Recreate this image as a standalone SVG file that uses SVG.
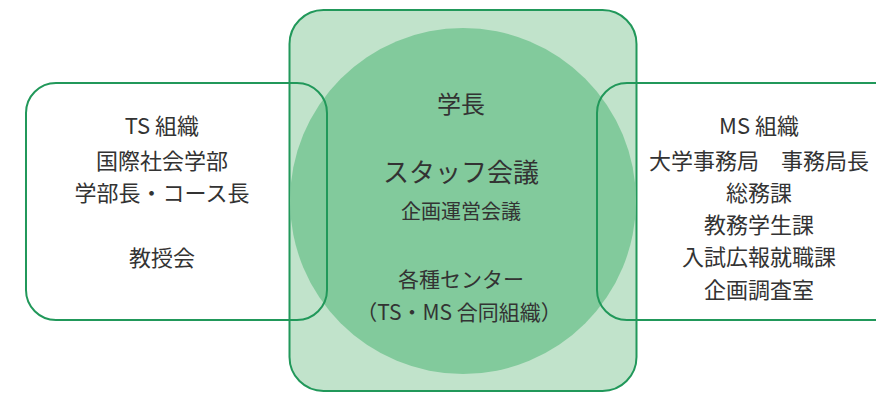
<svg xmlns="http://www.w3.org/2000/svg" width="876" height="393" viewBox="0 0 876 393">
<style>
.box{fill:none;stroke:#21985a;stroke-width:2}
.t{font-family:"Noto Sans CJK JP","Noto Sans",sans-serif;fill:#333;text-anchor:middle}
.s22{font-size:22px}
</style>
<rect width="876" height="393" fill="#fff"/>
<g id="center">
<rect x="289.5" y="10" width="347" height="381" rx="34" fill="#c1e3cb" stroke="#21985a" stroke-width="2"/>
<circle cx="463" cy="201" r="173" fill="#82ca9c"/>
<text class="t" x="461" y="113" font-size="24">学長</text>
<text class="t" x="461" y="182" font-size="26">スタッフ会議</text>
<text class="t" x="461" y="219" font-size="20">企画運営会議</text>
<text class="t" x="461" y="287" font-size="21">各種センター</text>
<text class="t" x="459" y="320" font-size="21">（TS・MS 合同組織）</text>
</g>
<g id="ts">
<rect class="box" x="26" y="83" width="301" height="237" rx="30"/>
<text class="t s22" x="162" y="134">TS 組織</text>
<text class="t s22" x="162" y="169">国際社会学部</text>
<text class="t s22" x="162" y="201">学部長・コース長</text>
<text class="t s22" x="162" y="266">教授会</text>
</g>
<g id="ms">
<rect class="box" x="597" y="83" width="310" height="237" rx="30"/>
<text class="t s22" x="759" y="134">MS 組織</text>
<text class="t s22" x="759" y="169">大学事務局　事務局長</text>
<text class="t s22" x="759" y="201">総務課</text>
<text class="t s22" x="759" y="233">教務学生課</text>
<text class="t s22" x="759" y="265">入試広報就職課</text>
<text class="t s22" x="759" y="298">企画調査室</text>
</g>
<g id="connectors"></g>
</svg>
